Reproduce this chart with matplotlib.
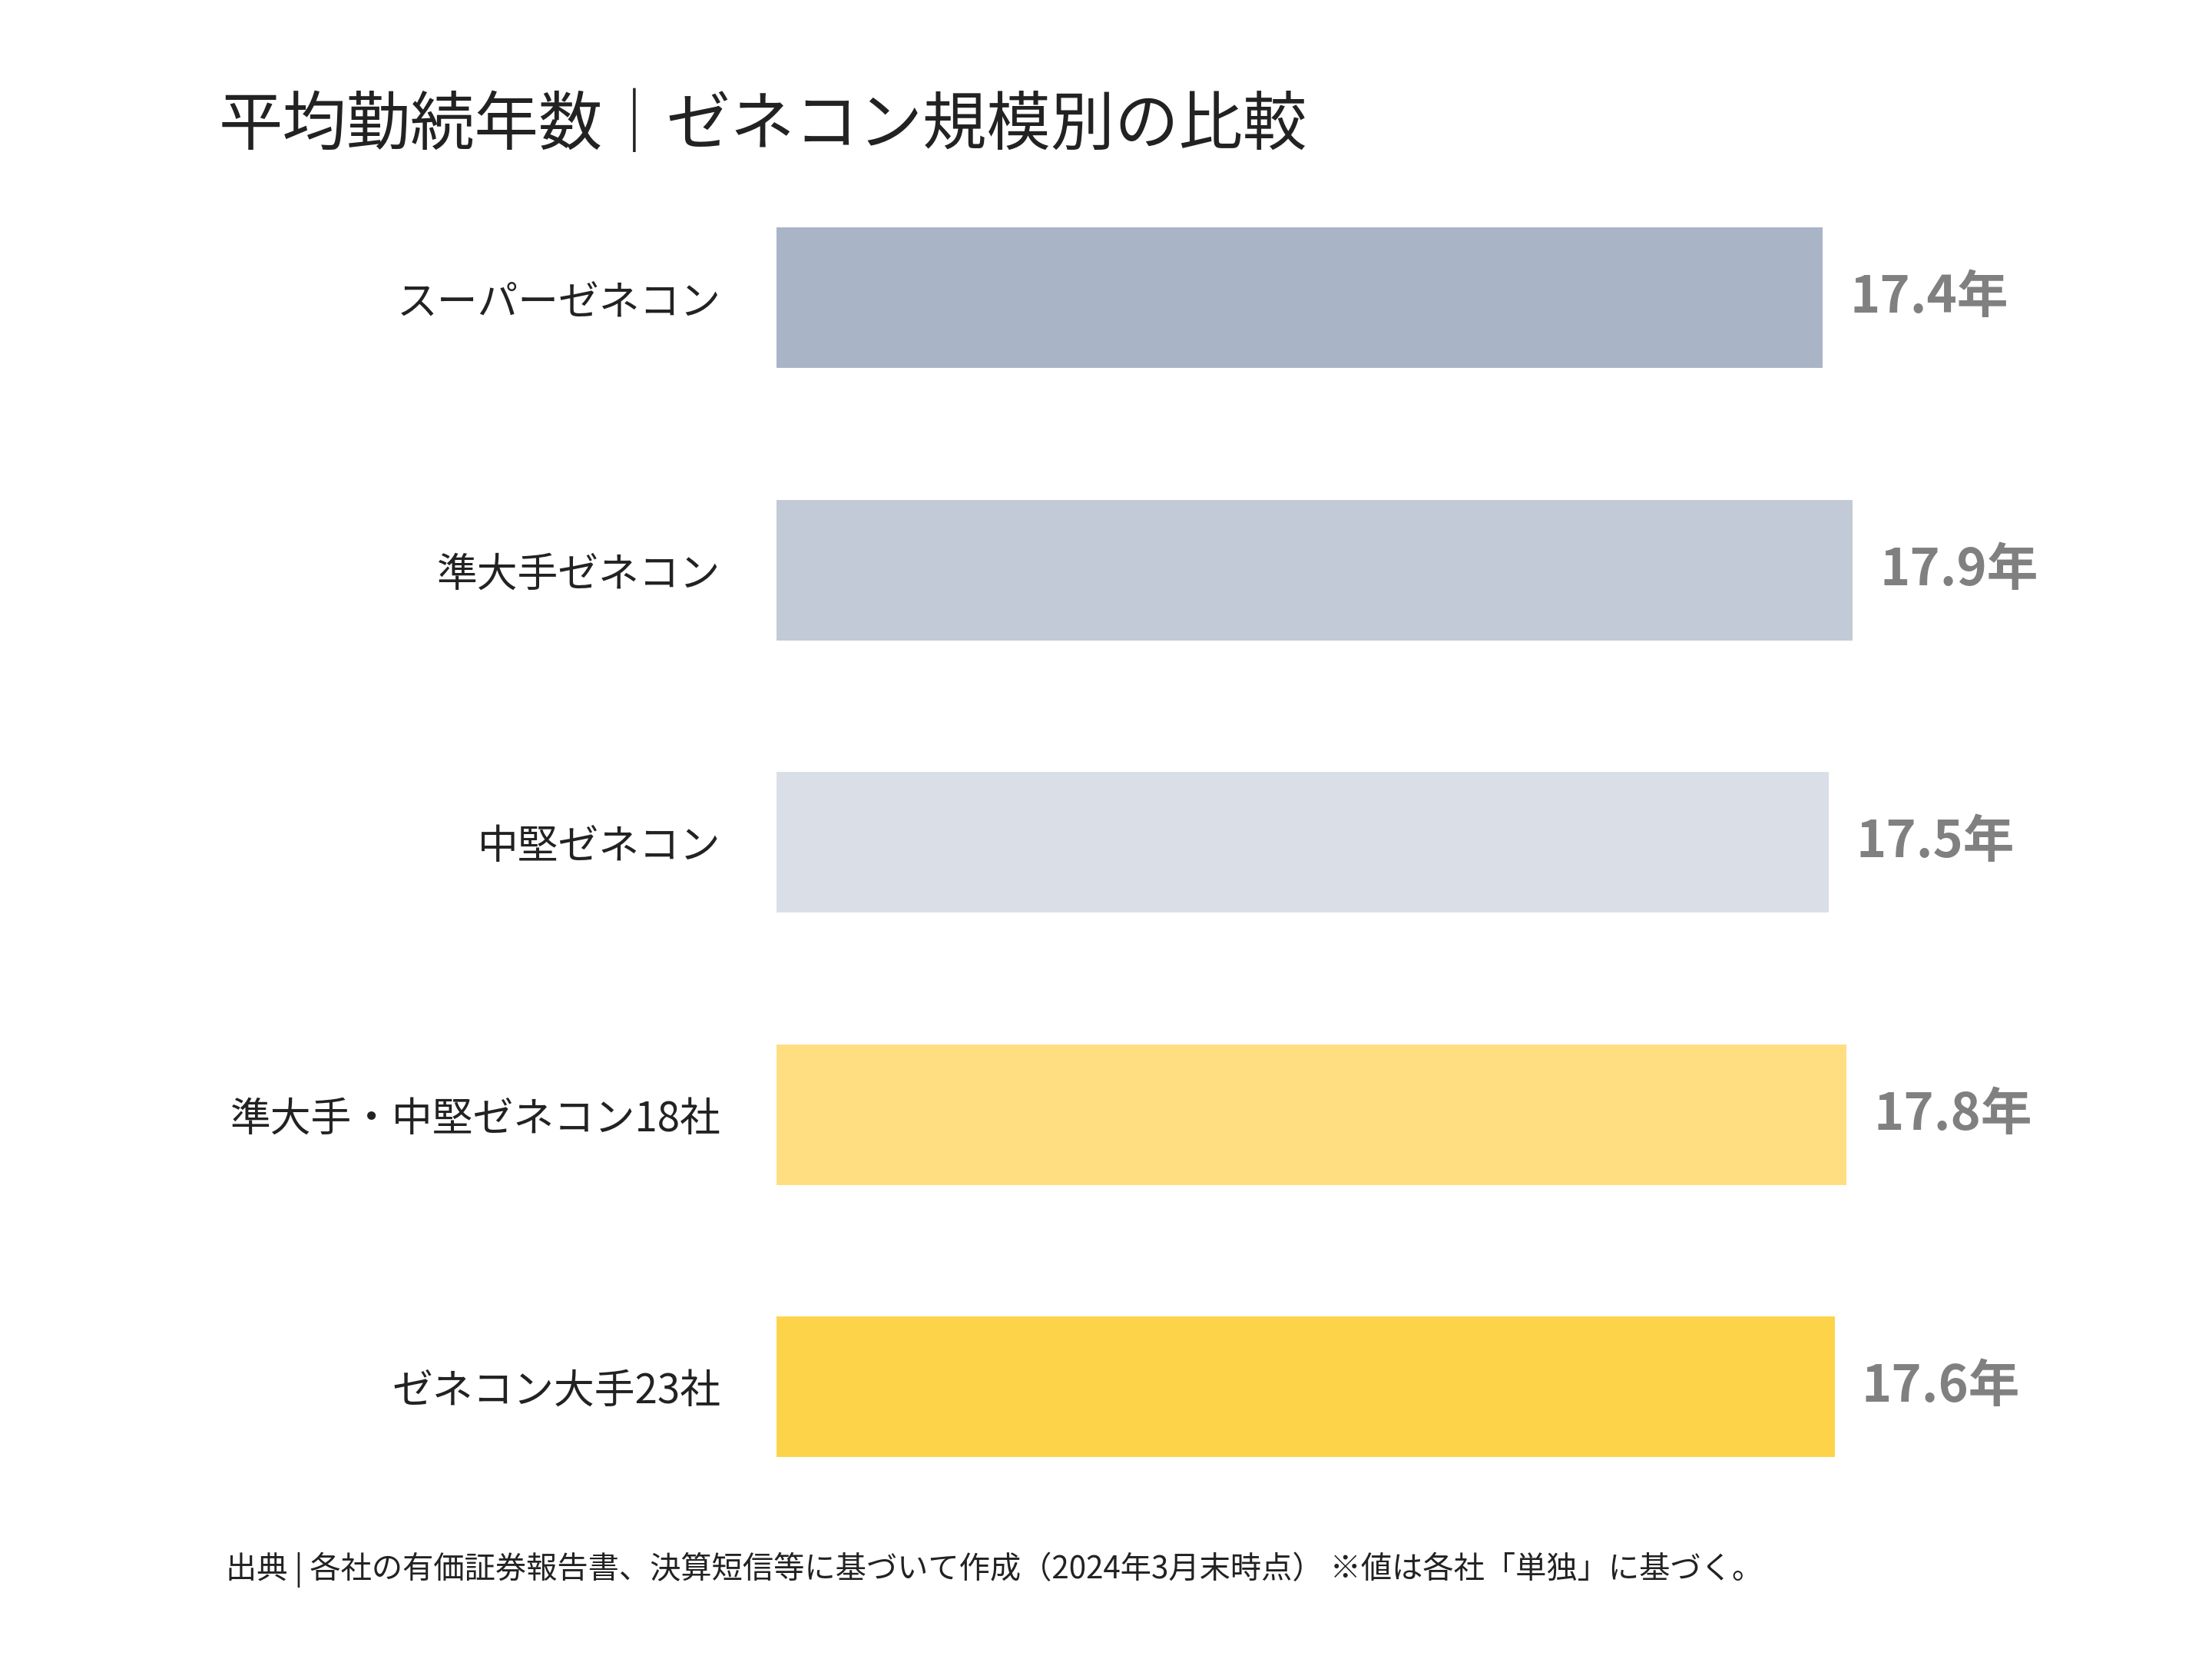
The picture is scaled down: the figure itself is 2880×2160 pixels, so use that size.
import matplotlib.pyplot as plt

plt.rcParams['font.family'] = 'Noto Sans CJK JP'

categories = ['スーパーゼネコン', '準大手ゼネコン', '中堅ゼネコン', '準大手・中堅ゼネコン18社', 'ゼネコン大手23社']
values = [17.4, 17.9, 17.5, 17.8, 17.6]
colors = ['#A9B4C6', '#C1CAD6', '#DADFE7', '#FFDE82', '#FDD34A']

fig = plt.figure(figsize=(14.4, 10.8), dpi=200)
ax = fig.add_axes([0.351, 0.082, 0.598, 0.8206])

pos = list(range(len(categories)))
ax.barh(pos, values, height=0.516, color=colors)
for p, v in zip(pos, values):
    ax.text(v + 0.45, p, f'{v}年', va='center', ha='left', fontsize=24,
            fontweight='bold', color='#808080')

ax.set_xlim(0, 22)
ax.set_ylim(len(categories) - 0.5, -0.5)
ax.set_yticks(pos)
ax.set_yticklabels(categories, fontsize=19, color='#222222')
ax.tick_params(axis='y', length=0, pad=26)
ax.set_xticks([])
for s in ax.spines.values():
    s.set_visible(False)

fig.text(0.099, 0.924, '平均勤続年数｜ゼネコン規模別の比較', fontsize=30, color='#222222', va='center')
fig.text(0.102, 0.054, '出典 | 各社の有価証券報告書、決算短信等に基づいて作成（2024年3月末時点） ※値は各社「単独」に基づく。',
         fontsize=14.5, color='#222222', va='center')

fig.savefig('out.png', dpi=200, facecolor='white')
